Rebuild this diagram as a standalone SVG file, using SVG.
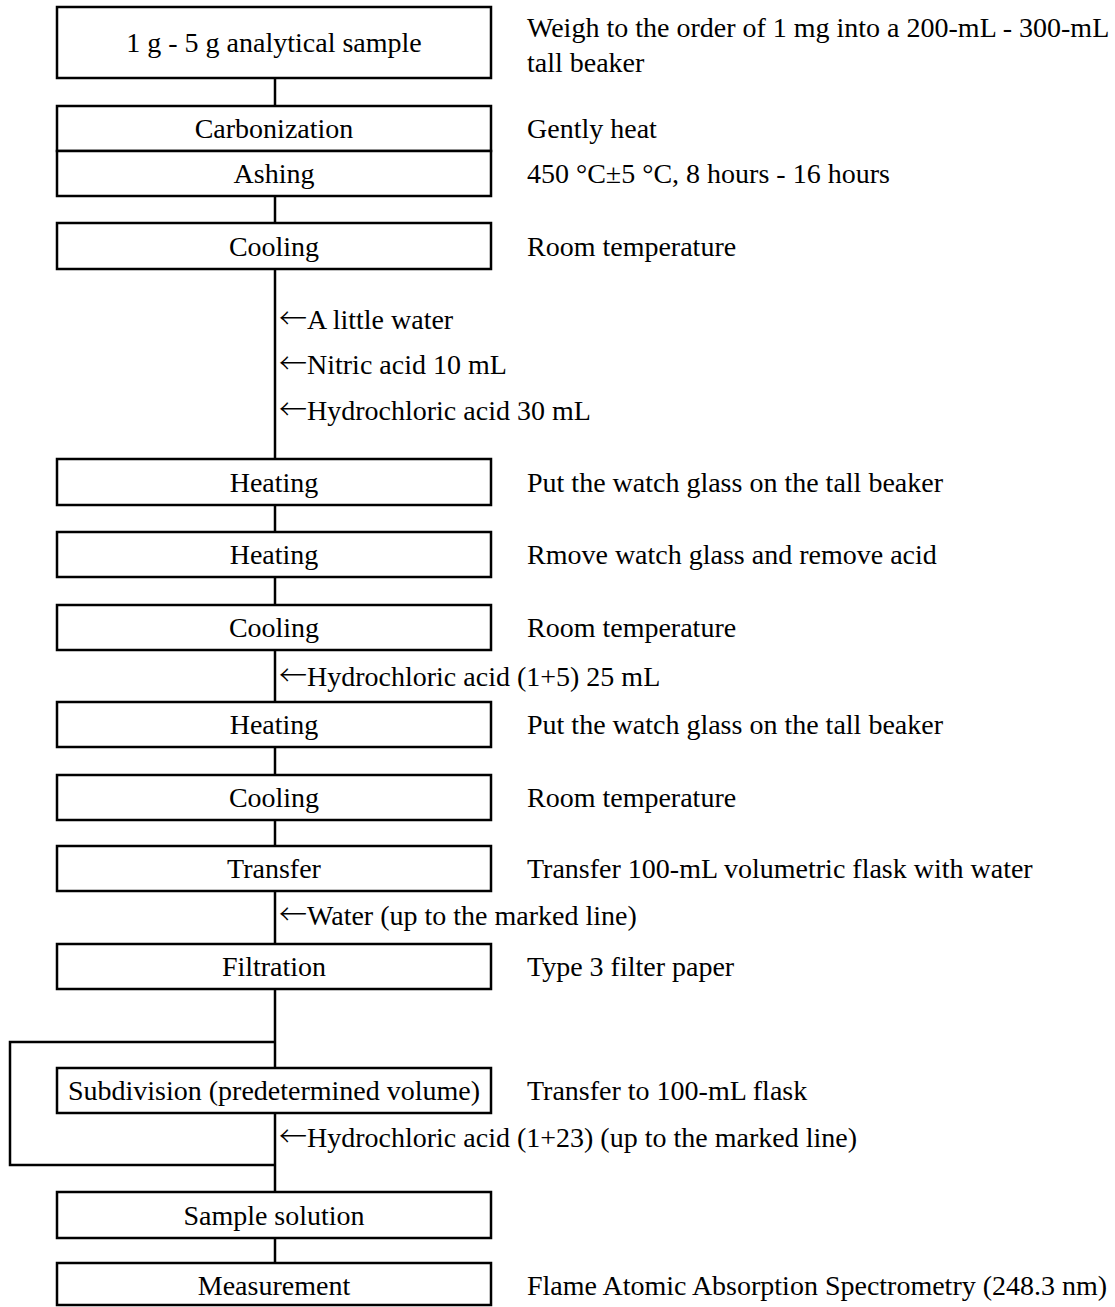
<svg xmlns="http://www.w3.org/2000/svg" width="1115" height="1307" viewBox="0 0 1115 1307">
<style>
.box{fill:#fff;stroke:#000;stroke-width:2.5}
.ln{fill:none;stroke:#000;stroke-width:2.5}
.bt{font-family:"Liberation Serif","Times New Roman",serif;font-size:28px;text-anchor:middle;fill:#000}
.nt{font-family:"Liberation Serif","Times New Roman",serif;font-size:28px;fill:#000}
.ar{font-family:"Noto Sans CJK JP","Noto Sans CJK SC",sans-serif;font-weight:300}
</style>
<rect width="1115" height="1307" fill="#fff"/>
<g id="connectors">
<line class="ln" x1="275" y1="78" x2="275" y2="106"/>
<line class="ln" x1="275" y1="196" x2="275" y2="223"/>
<line class="ln" x1="275" y1="269" x2="275" y2="459"/>
<line class="ln" x1="275" y1="505" x2="275" y2="532"/>
<line class="ln" x1="275" y1="577" x2="275" y2="605"/>
<line class="ln" x1="275" y1="650" x2="275" y2="702"/>
<line class="ln" x1="275" y1="747" x2="275" y2="775"/>
<line class="ln" x1="275" y1="820" x2="275" y2="846"/>
<line class="ln" x1="275" y1="891" x2="275" y2="944"/>
<line class="ln" x1="275" y1="989" x2="275" y2="1068"/>
<line class="ln" x1="275" y1="1113" x2="275" y2="1192"/>
<line class="ln" x1="275" y1="1238" x2="275" y2="1263"/>
<polyline class="ln" points="275,1042 10,1042 10,1165 275,1165"/>
<text class="nt" x="279" y="329"><tspan class="ar">←</tspan>A little water</text>
<text class="nt" x="279" y="374"><tspan class="ar">←</tspan>Nitric acid 10 mL</text>
<text class="nt" x="279" y="420"><tspan class="ar">←</tspan>Hydrochloric acid 30 mL</text>
<text class="nt" x="279" y="686"><tspan class="ar">←</tspan>Hydrochloric acid (1+5) 25 mL</text>
<text class="nt" x="279" y="925"><tspan class="ar">←</tspan>Water (up to the marked line)</text>
<text class="nt" x="279" y="1147"><tspan class="ar">←</tspan>Hydrochloric acid (1+23) (up to the marked line)</text>
</g>
<g id="n-sample">
<rect class="box" x="57" y="7" width="434" height="71"/>
<text class="bt" x="274" y="52">1 g - 5 g analytical sample</text>
<text class="nt" x="527" y="37">Weigh to the order of 1 mg into a 200-mL - 300-mL</text>
<text class="nt" x="527" y="72">tall beaker</text>
</g>
<g id="n-carbonization">
<rect class="box" x="57" y="106" width="434" height="45"/>
<text class="bt" x="274" y="138">Carbonization</text>
<text class="nt" x="527" y="138">Gently heat</text>
</g>
<g id="n-ashing">
<rect class="box" x="57" y="151" width="434" height="45"/>
<text class="bt" x="274" y="183">Ashing</text>
<text class="nt" x="527" y="183">450 °C±5 °C, 8 hours - 16 hours</text>
</g>
<g id="n-cooling1">
<rect class="box" x="57" y="223" width="434" height="46"/>
<text class="bt" x="274" y="256">Cooling</text>
<text class="nt" x="527" y="256">Room temperature</text>
</g>
<g id="n-heating1">
<rect class="box" x="57" y="459" width="434" height="46"/>
<text class="bt" x="274" y="492">Heating</text>
<text class="nt" x="527" y="492">Put the watch glass on the tall beaker</text>
</g>
<g id="n-heating2">
<rect class="box" x="57" y="532" width="434" height="45"/>
<text class="bt" x="274" y="564">Heating</text>
<text class="nt" x="527" y="564">Rmove watch glass and remove acid</text>
</g>
<g id="n-cooling2">
<rect class="box" x="57" y="605" width="434" height="45"/>
<text class="bt" x="274" y="637">Cooling</text>
<text class="nt" x="527" y="637">Room temperature</text>
</g>
<g id="n-heating3">
<rect class="box" x="57" y="702" width="434" height="45"/>
<text class="bt" x="274" y="734">Heating</text>
<text class="nt" x="527" y="734">Put the watch glass on the tall beaker</text>
</g>
<g id="n-cooling3">
<rect class="box" x="57" y="775" width="434" height="45"/>
<text class="bt" x="274" y="807">Cooling</text>
<text class="nt" x="527" y="807">Room temperature</text>
</g>
<g id="n-transfer">
<rect class="box" x="57" y="846" width="434" height="45"/>
<text class="bt" x="274" y="878">Transfer</text>
<text class="nt" x="527" y="878">Transfer 100-mL volumetric flask with water</text>
</g>
<g id="n-filtration">
<rect class="box" x="57" y="944" width="434" height="45"/>
<text class="bt" x="274" y="976">Filtration</text>
<text class="nt" x="527" y="976">Type 3 filter paper</text>
</g>
<g id="n-subdivision">
<rect class="box" x="57" y="1068" width="434" height="45"/>
<text class="bt" x="274" y="1100">Subdivision (predetermined volume)</text>
<text class="nt" x="527" y="1100">Transfer to 100-mL flask</text>
</g>
<g id="n-solution">
<rect class="box" x="57" y="1192" width="434" height="46"/>
<text class="bt" x="274" y="1225">Sample solution</text>
</g>
<g id="n-measurement">
<rect class="box" x="57" y="1263" width="434" height="42"/>
<text class="bt" x="274" y="1295">Measurement</text>
<text class="nt" x="527" y="1295">Flame Atomic Absorption Spectrometry (248.3 nm)</text>
</g>
</svg>
